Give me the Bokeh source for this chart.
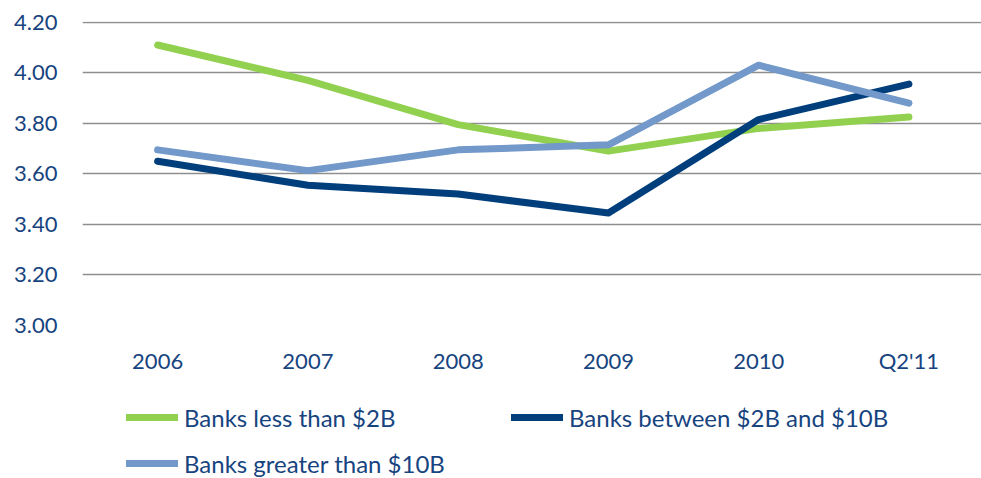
from bokeh.plotting import figure
from bokeh.models import Range1d, FixedTicker, NumeralTickFormatter, Legend, LegendItem
from bokeh.layouts import column
from bokeh.embed import file_html
from bokeh.resources import INLINE

categories = ["2006", "2007", "2008", "2009", "2010", "Q2'11"]
less_2b = [4.11, 3.97, 3.795, 3.69, 3.78, 3.825]
between_2b_10b = [3.65, 3.555, 3.52, 3.445, 3.815, 3.955]
greater_10b = [3.695, 3.613, 3.695, 3.715, 4.03, 3.88]
y_ticks = [3.0, 3.2, 3.4, 3.6, 3.8, 4.0, 4.2]
series_names = ["Banks less than $2B", "Banks between $2B and $10B", "Banks greater than $10B"]
series_colors = ["#92D050", "#003E7C", "#7299CA"]

series = [less_2b, between_2b_10b, greater_10b]
x = list(range(len(categories)))
text_color = "#17447F"
font = "Lato"

p = figure(width=981, height=380, output_backend="svg", toolbar_location=None,
           x_range=Range1d(-0.5, 5.483), y_range=Range1d(3.0, 4.203),
           min_border_left=82, min_border_right=0, min_border_top=21, min_border_bottom=55)
p.outline_line_color = None
p.background_fill_color = "white"
p.border_fill_color = "white"

for vals, color in zip(series, series_colors):
    p.line(x, vals, line_color=color, line_width=7, line_cap="round", line_join="round")

p.xaxis.ticker = FixedTicker(ticks=x)
p.xaxis.major_label_overrides = {i: c for i, c in zip(x, categories)}
p.yaxis.ticker = FixedTicker(ticks=y_ticks)
p.yaxis.formatter = NumeralTickFormatter(format="0.00")

for ax in (p.xaxis[0], p.yaxis[0]):
    ax.axis_line_color = None
    ax.major_tick_line_color = None
    ax.minor_tick_line_color = None
    ax.major_tick_out = 0
    ax.major_tick_in = 0
    ax.major_label_text_font = font
    ax.major_label_text_font_size = "22px"
    ax.major_label_text_color = text_color
p.yaxis.major_label_standoff = 25
p.xaxis.major_label_standoff = 21

p.xgrid.grid_line_color = None
p.ygrid.ticker = FixedTicker(ticks=y_ticks)
p.ygrid.grid_line_color = "#8E8E8E"
p.ygrid.grid_line_width = 1.5

# legend strip below the chart (series drawn outside its visible range; only the legend shows)
lg = figure(width=981, height=98, output_backend="svg", toolbar_location=None,
            x_range=Range1d(-0.5, 5.483), y_range=Range1d(0, 1),
            min_border_left=0, min_border_right=0, min_border_top=0, min_border_bottom=0)
lg.axis.visible = False
lg.grid.visible = False
lg.outline_line_color = None
lg.border_fill_color = "white"
lg.background_fill_color = "white"

items = []
for name, vals, color in zip(series_names, series, series_colors):
    r = lg.line(x, vals, line_color=color, line_width=7, line_cap="round")
    items.append(LegendItem(label=name, renderers=[r]))

legend = Legend(items=items, location=(44, 0), orientation="horizontal", ncols=2,
                glyph_width=52, glyph_height=30, label_height=30, label_width=311,
                label_standoff=6, spacing=16, padding=0, margin=0,
                border_line_color=None, background_fill_alpha=0,
                label_text_font=font, label_text_font_size="24px",
                label_text_color=text_color)
lg.add_layout(legend)

layout = column(p, lg, spacing=0)
open("out.html", "w").write(file_html(layout, INLINE))
